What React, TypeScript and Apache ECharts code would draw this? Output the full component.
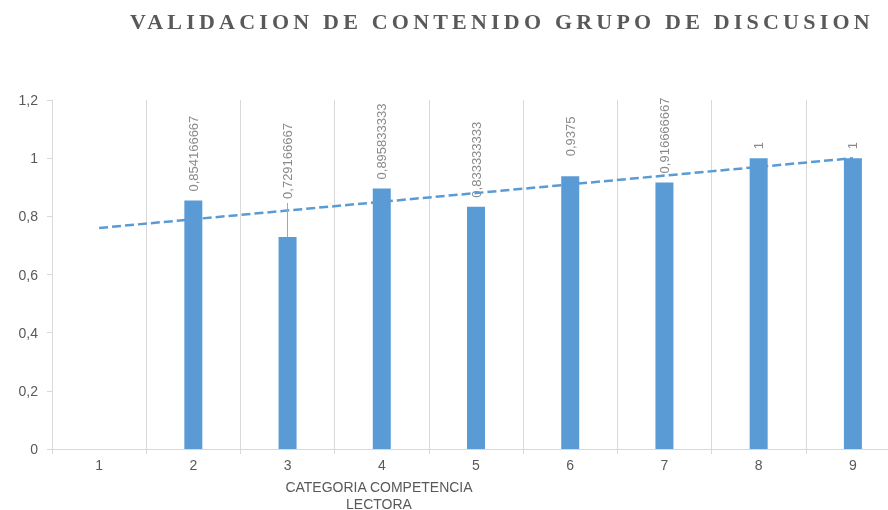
import React, { useEffect, useRef } from "react";
import * as echarts from "echarts";

const TITLE = "VALIDACION DE CONTENIDO GRUPO DE DISCUSION";
const AXIS_TITLE = "CATEGORIA COMPETENCIA\nLECTORA";
const categories = ["1", "2", "3", "4", "5", "6", "7", "8", "9"];
const scores: (number | null)[] = [null, 0.854166667, 0.729166667, 0.895833333, 0.833333333, 0.9375, 0.916666667, 1, 1];
const trend: (number | null)[] = [0.76, null, null, null, null, null, null, null, 1.0];
const yMin = 0;
const yMax = 1.2;
const yStep = 0.2;

const fmt = (v: number) => String(v).replace(".", ",");

export default function App() {
  const ref = useRef<HTMLDivElement>(null);
  useEffect(() => {
    if (!ref.current) return;
    const chart = echarts.init(ref.current, null, { renderer: "svg" });
    const grey = "#595959";
    const lineGrey = "#d9d9d9";
    chart.setOption({
      animation: false,
      title: {
        text: TITLE,
        left: 130,
        top: 10,
        padding: 0,
        textStyle: { fontFamily: "'Liberation Serif', serif", fontWeight: "bold", fontSize: 22, color: grey },
      },
      grid: { left: 52, right: -12, top: 100, bottom: 61, containLabel: false, outerBoundsMode: "none" },
      xAxis: {
        type: "category",
        data: categories,
        boundaryGap: true,
        axisLine: { show: true, lineStyle: { color: lineGrey } },
        axisTick: { show: true, length: 5, lineStyle: { color: lineGrey } },
        axisLabel: { color: grey, fontSize: 14, margin: 9, fontFamily: "'Liberation Sans', sans-serif" },
        splitLine: { show: true, lineStyle: { color: lineGrey } },
      },
      yAxis: {
        type: "value",
        min: yMin,
        max: yMax,
        interval: yStep,
        axisLine: { show: true, lineStyle: { color: lineGrey } },
        axisTick: { show: true, length: 5, lineStyle: { color: lineGrey } },
        axisLabel: {
          color: grey,
          fontSize: 14,
          margin: 14,
          fontFamily: "'Liberation Sans', sans-serif",
          formatter: (v: number) => fmt(Math.round(v * 10) / 10),
        },
        splitLine: { show: false },
      },
      graphic: [
        {
          type: "text",
          x: 379,
          y: 478,
          style: {
            text: AXIS_TITLE,
            fill: grey,
            fontSize: 14,
            lineHeight: 17,
            align: "center",
            verticalAlign: "top",
            fontFamily: "'Liberation Sans', sans-serif",
          },
        },
      ],
      series: [
        {
          type: "bar",
          data: scores.map((v, i) => {
            if (v === null) return null;
            if (i === 2) return { value: v, label: { distance: 38 } };
            if (i === 5) return { value: v, label: { distance: 20 } };
            return v;
          }),
          barWidth: 18,
          itemStyle: { color: "#5b9bd5" },
          label: {
            show: true,
            position: "top",
            rotate: 90,
            align: "left",
            verticalAlign: "middle",
            distance: 9,
            color: "#8a8a8a",
            fontSize: 13,
            fontFamily: "'Liberation Sans', sans-serif",
            formatter: (p: any) => fmt(p.value),
          },
          markLine: {
            silent: true,
            symbol: "none",
            label: { show: false },
            lineStyle: { color: "#a6a6a6", width: 1, type: "solid" },
            data: [[{ coord: ["3", 0.7292] }, { coord: ["3", 0.846] }]],
          },
          z: 2,
        },
        {
          type: "line",
          data: trend,
          connectNulls: true,
          symbol: "none",
          lineStyle: { color: "#5b9bd5", width: 2.5, type: [9, 4] },
          z: 3,
        },
      ],
    });
    const texts = ref.current.querySelectorAll("text");
    texts.forEach((t) => {
      if (t.textContent === TITLE) {
        (t as SVGTextElement).style.letterSpacing = "4.2px";
      }
    });
    return () => chart.dispose();
  }, []);
  return <div ref={ref} style={{ position: "fixed", left: 0, top: 0, width: 888, height: 510 }} />;
}
